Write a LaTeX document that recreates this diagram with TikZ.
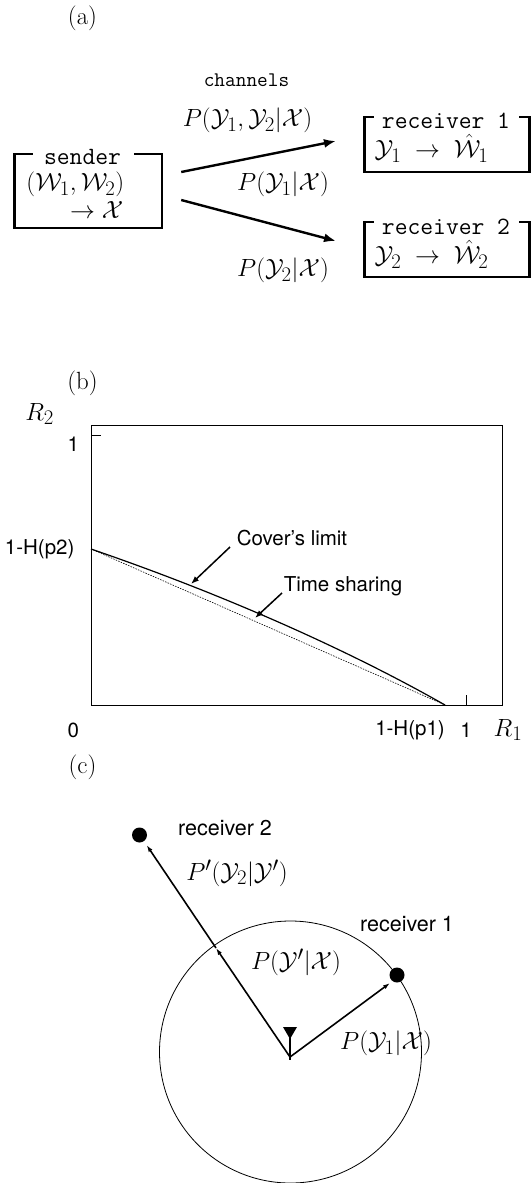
\documentclass[tikz,border=0pt]{standalone}
\usepackage{fontspec}
\usetikzlibrary{arrows.meta}
\newfontfamily\hv{TeX Gyre Heros}
\begin{document}
\begin{tikzpicture}[x=1pt,y=-1pt,
  rm/.style={font=\fontsize{24.88}{30}\selectfont, inner sep=0pt},
  mono/.style={font=\ttfamily\fontsize{24.88}{30}\selectfont, inner sep=0pt},
  monosmall/.style={font=\ttfamily\fontsize{20.74}{25}\selectfont, inner sep=0pt},
  sans/.style={font=\hv\fontsize{20.5}{24}\selectfont, inner sep=0pt},
  sansbig/.style={font=\hv\fontsize{21.5}{25}\selectfont, inner sep=0pt},
  boxline/.style={line width=2.4pt},
  bigarrow/.style={line width=2.4pt, -{Latex[length=12pt,width=9pt]}},
  plotframe/.style={line width=0.8pt},
  ptr/.style={line width=1.5pt, -{Latex[length=8pt,width=6pt]}},
  ray/.style={line width=1.6pt, -{Latex[length=7pt,width=4.5pt]}},
  dot/.style={circle, fill=black, minimum size=15pt, inner sep=0pt}
]
\useasboundingbox (0,0) rectangle (532,1183);

% ---------------- (a) ----------------
\node[rm] (la) at (82.5,18) {(a)};
\node[monosmall] (chan) at (246.5,80) {channels};
\node[rm] (pjoint) at (247.5,120) {$P(\mathcal{Y}_1,\mathcal{Y}_2|\mathcal{X})$};
\node[rm] (p1) at (283,184) {$P(\mathcal{Y}_1|\mathcal{X})$};
\node[rm] (p2) at (283,270) {$P(\mathcal{Y}_2|\mathcal{X})$};

% sender
\draw[boxline] (32.6,154) -- (14.3,154) -- (14.3,228) -- (162,228) -- (162,154) -- (134.4,154);
\node[mono] (snd) at (82.5,157) {sender};
\node[rm] (sw) at (75.3,184) {$(\mathcal{W}_1,\mathcal{W}_2)$};
\node[rm] (sx) at (96.7,210) {$\rightarrow\mathcal{X}$};

% receivers
\draw[boxline] (373.6,117) -- (364.4,117) -- (364.4,172) -- (529.4,172) -- (529.4,117) -- (519.2,117);
\node[mono] (r1) at (446,121) {receiver 1};
\node[rm] (r1m) at (431.6,148) {$\mathcal{Y}_1 \;\rightarrow\; \hat{\mathcal{W}}_1$};
\draw[boxline] (373.6,222) -- (364.4,222) -- (364.4,277) -- (529.4,277) -- (529.4,222) -- (519.2,222);
\node[mono] (r2) at (446,227) {receiver 2};
\node[rm] (r2m) at (431.6,254) {$\mathcal{Y}_2 \;\rightarrow\; \hat{\mathcal{W}}_2$};

\coordinate (a1s) at (181.2,172);
\coordinate (a1e) at (336,141);
\coordinate (a2s) at (181.2,200);
\coordinate (a2e) at (336,241);
\draw[bigarrow] (a1s) -- (a1e);
\draw[bigarrow] (a2s) -- (a2e);

% ---------------- (b) ----------------
\node[rm] (lb) at (82.5,383) {(b)};
\node[rm] (R2) at (39.7,414) {$R_2$};
\node[rm] (R1) at (508,730) {$R_1$};
\draw[plotframe] (91,425) rectangle (502,705);
\draw[plotframe] (91,435) -- (101,435);
\draw[plotframe] (466,705) -- (466,695);
\node[sans] (y1) at (73.3,444) {1};
\node[sans] (yh) at (39.7,549) {1-H(p2)};
\node[sans] (x0) at (73.3,730) {0};
\node[sans] (xh) at (410,730) {1-H(p1)};
\node[sans] (x1) at (466,730) {1};

\coordinate (cs) at (91,549);
\coordinate (ce) at (445,705);
\draw[line width=1.2pt] (cs) .. controls (228,596) and (352,652) .. (ce);
\draw[line width=0.6pt, dash pattern=on 1.5pt off 1.2pt] (cs) -- (ce);

\node[sans] (cov) at (292,538) {Cover’s limit};
\node[sans] (ts) at (343,586) {Time sharing};
\coordinate (covs) at (230,547);
\coordinate (cove) at (191,584);
\coordinate (tss) at (282,593);
\coordinate (tse) at (255,618);
\draw[ptr] (covs) -- (cove);
\draw[ptr] (tss) -- (tse);

% ---------------- (c) ----------------
\node[rm] (lc) at (82.5,767) {(c)};
\coordinate (cc) at (290.5,1052);
\draw[line width=0.8pt] (cc) circle[radius=131pt];

\coordinate (orig) at (290,1057);
\fill (283,1027) -- (297,1027) -- (290,1039) -- cycle;
\draw[line width=2pt] (290,1030) -- (290,1060);

\node[dot] (d2) at (139.5,835) {};
\node[dot] (d1) at (397,975) {};
\coordinate (cross) at (216,948);
\coordinate (e2) at (146.6,845);
\coordinate (e1) at (390,983);
\draw[ray] (orig) -- (cross);
\draw[ray] (cross) -- (e2);
\draw[ray] (orig) -- (e1);

\node[sansbig] (rc2) at (225,828) {receiver 2};
\node[sansbig] (rc1) at (407,924) {receiver 1};
\node[rm] (pp) at (237,873) {$P'(\mathcal{Y}_2|\mathcal{Y}')$};
\node[rm] (py) at (296,962) {$P(\mathcal{Y}'|\mathcal{X})$};
\node[rm] (py1) at (386,1043) {$P(\mathcal{Y}_1|\mathcal{X})$};
\end{tikzpicture}
\end{document}
